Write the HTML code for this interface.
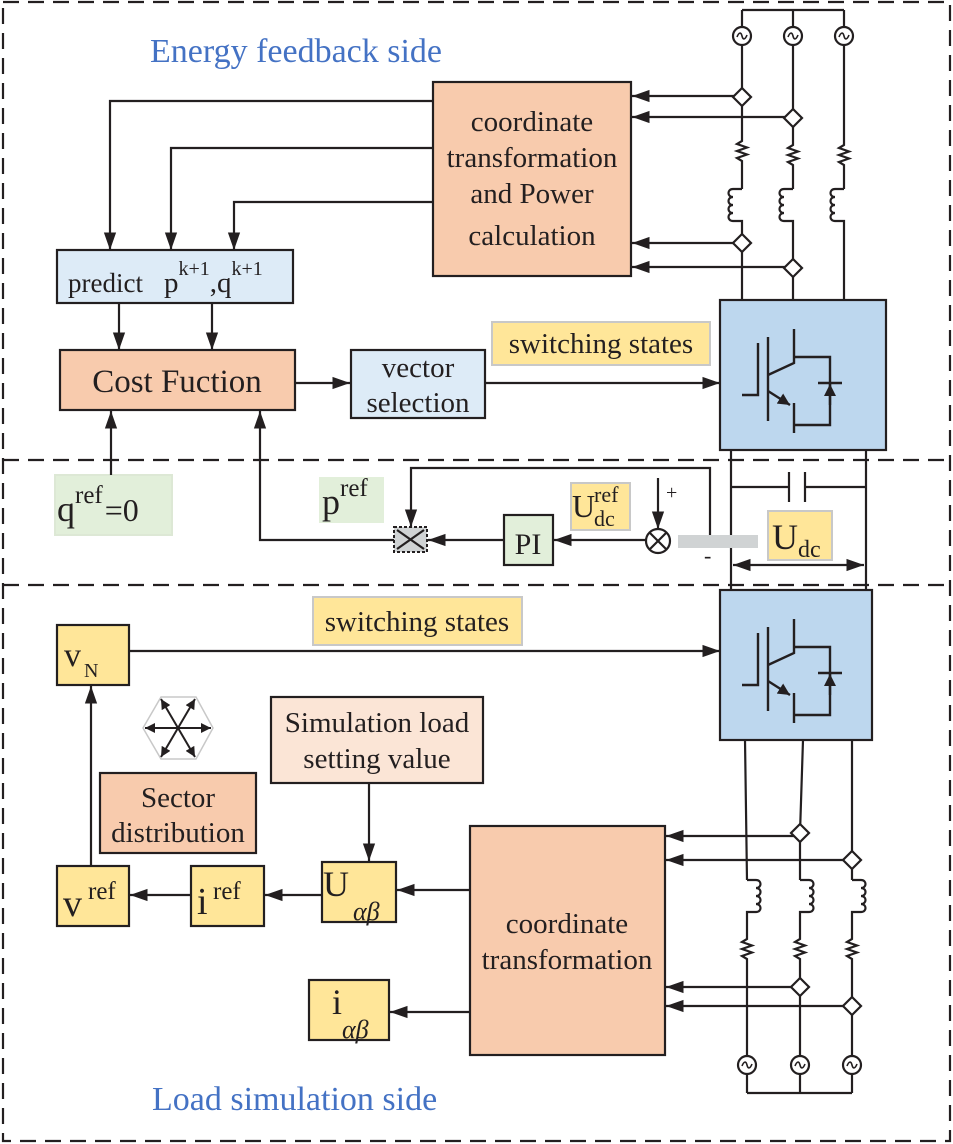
<!DOCTYPE html>
<html><head><meta charset="utf-8"><style>
html,body{margin:0;padding:0;background:#fff}
svg{display:block}
text{font-family:"Liberation Serif",serif;fill:#231f20}
</style></head><body>
<svg width="953" height="1144" viewBox="0 0 953 1144" xmlns="http://www.w3.org/2000/svg">
<defs>
<marker id="a" viewBox="0 0 10 10" refX="10" refY="5" markerWidth="8" markerHeight="8" orient="auto-start-reverse" markerUnits="strokeWidth"><path d="M0,1.5 L10,5 L0,8.5z" fill="#231f20"/></marker>
<marker id="s" viewBox="0 0 10 10" refX="10" refY="5" markerWidth="5" markerHeight="5" orient="auto-start-reverse"><path d="M0,0 L10,5 L0,10z" fill="#231f20"/></marker>
</defs>
<g fill="none" stroke="#231f20" stroke-width="2.2" stroke-dasharray="16,9">
<path d="M3,2 L950,2 L950,1141 L3,1141 Z"/>
<path d="M3,460 L950,460"/><path d="M3,585 L950,585"/>
</g>
<text x="150" y="62" font-size="34" style="fill:#4472c4">Energy feedback side</text>
<text x="152" y="1110" font-size="34" style="fill:#4472c4">Load simulation side</text>

<g stroke="#231f20" stroke-width="2.2">
<rect x="433" y="82" width="198" height="194" fill="#f8cbad"/>
<rect x="57" y="250" width="236" height="53" fill="#ddebf7"/>
<rect x="60" y="350" width="235" height="60" fill="#f8cbad"/>
<rect x="351" y="350" width="134" height="68" fill="#ddebf7"/>
<rect x="720" y="300" width="166" height="150" fill="#bdd7ee"/>
<rect x="720" y="590" width="152" height="150" fill="#bdd7ee"/>
<rect x="504" y="515" width="49" height="50" fill="#e2efda"/>
<rect x="57" y="625" width="72" height="60" fill="#ffe699"/>
<rect x="100" y="773" width="156" height="80" fill="#f8cbad"/>
<rect x="271" y="697" width="212" height="86" fill="#fbe5d6"/>
<rect x="322" y="862" width="74" height="60" fill="#ffe699"/>
<rect x="191" y="866" width="73" height="60" fill="#ffe699"/>
<rect x="57" y="866" width="72" height="60" fill="#ffe699"/>
<rect x="470" y="826" width="195" height="229" fill="#f8cbad"/>
<rect x="309" y="980" width="80" height="60" fill="#ffe699"/>
</g>
<g stroke="#c8c8c8" stroke-width="2">
<rect x="492" y="322" width="218" height="43" fill="#ffe699"/>
<rect x="313" y="597" width="209" height="48" fill="#ffe699"/>
<rect x="55" y="475" width="117" height="60" fill="#e2efda" stroke="#dde8d5"/>
<rect x="320" y="478" width="63" height="44" fill="#e2efda" stroke="#e2efda"/>
<rect x="571" y="483" width="59" height="47" fill="#ffe699"/>
<rect x="768" y="511" width="64" height="49" fill="#ffe699"/>
</g>

<g font-size="29" text-anchor="middle">
<text x="532" y="131">coordinate</text><text x="532" y="167">transformation</text><text x="532" y="203">and Power</text><text x="532" y="245">calculation</text>
<text x="418" y="377">vector</text><text x="418" y="412">selection</text>
<text x="601" y="353">switching states</text>
<text x="417" y="631">switching states</text>
<text x="377" y="732">Simulation load</text><text x="377" y="768">setting value</text>
<text x="178" y="807">Sector</text><text x="178" y="842">distribution</text>
<text x="567" y="933">coordinate</text><text x="567" y="969">transformation</text>
<text x="528" y="554" font-size="30">PI</text>
</g>
<text x="177" y="392" font-size="33" text-anchor="middle">Cost Fuction</text>
<text x="68" y="292" font-size="27">predict<tspan x="164" font-size="29">p</tspan><tspan font-size="20" dy="-17">k+1</tspan><tspan font-size="29" dy="17">,q</tspan><tspan font-size="20" dy="-17">k+1</tspan></text>
<text x="57" y="521" font-size="36">q<tspan font-size="25" dy="-18">ref</tspan><tspan font-size="32" dy="18" dx="2">=0</tspan></text>
<text x="322" y="514" font-size="36">p<tspan font-size="25" dy="-18">ref</tspan></text>
<text x="572" y="517" font-size="32">U</text><text x="594" y="502" font-size="22">ref</text><text x="594" y="526" font-size="22">dc</text>
<text x="772" y="549" font-size="36">U</text><text x="798" y="557" font-size="24">dc</text>
<text x="666" y="499" font-size="20">+</text><text x="704" y="563" font-size="22">-</text>
<text x="64" y="666" font-size="34">v</text><text x="84" y="677" font-size="20">N</text>
<text x="63" y="916" font-size="38">v</text><text x="88" y="899" font-size="25">ref</text>
<text x="197" y="914" font-size="38">i</text><text x="213" y="899" font-size="25">ref</text>
<text x="323" y="896" font-size="36">U</text><text x="353" y="920" font-size="26" font-style="italic">αβ</text>
<text x="332" y="1014" font-size="36">i</text><text x="342" y="1038" font-size="26" font-style="italic">αβ</text>

<g fill="none" stroke="#231f20" stroke-width="2.2">
<path d="M433,101 L110,101 L110,250" marker-end="url(#a)"/>
<path d="M433,148 L171,148 L171,250" marker-end="url(#a)"/>
<path d="M433,202 L234,202 L234,250" marker-end="url(#a)"/>
<path d="M119,303 L119,350" marker-end="url(#a)"/>
<path d="M212,303 L212,350" marker-end="url(#a)"/>
<path d="M295,383 L350,383" marker-end="url(#a)"/>
<path d="M485,383 L720,383" marker-end="url(#a)"/>
<path d="M111,475 L111,411" marker-end="url(#a)"/>
<path d="M394,540 L260,540 L260,411" marker-end="url(#a)"/>
<path d="M504,540 L428,540" marker-end="url(#a)"/>
<path d="M648,540 L554,540" marker-end="url(#a)"/>
<path d="M658,478 L658,529" marker-end="url(#a)"/>
<path d="M710,540 L710,468 L411,468 L411,527" marker-end="url(#a)"/>
<path d="M129,651 L720,651" marker-end="url(#a)"/>
<path d="M91,866 L91,686" marker-end="url(#a)"/>
<path d="M369,783 L369,861" marker-end="url(#a)"/>
<path d="M322,895 L265,895" marker-end="url(#a)"/>
<path d="M191,895 L130,895" marker-end="url(#a)"/>
<path d="M470,890 L397,890" marker-end="url(#a)"/>
<path d="M470,1012 L390,1012" marker-end="url(#a)"/>
<path d="M742,10 L844,10 M742,10 L742,138 M793,10 L793,142 M844,10 L844,142"/>
<path d="M742,138 l0,3 l-5,3 l10,3.5 l-10,3.5 l10,3.5 l-10,3.5 l5,3 l0,4"/>
<path d="M793,142 l0,3 l-5,3 l10,3.5 l-10,3.5 l10,3.5 l-10,3.5 l5,3 l0,4"/>
<path d="M844,142 l0,3 l-5,3 l10,3.5 l-10,3.5 l10,3.5 l-10,3.5 l5,3 l0,4"/>
<path d="M742,165 L742,189 M793,169 L793,189 M844,169 L844,189"/>
<path d="M742,189 l-9,0 c-6,0 -6,8 0,8 c-6,0 -6,8 0,8 c-6,0 -6,8 0,8 c-6,0 -6,8 0,8 l9,0 L742,300"/>
<path d="M793,189 l-9,0 c-6,0 -6,8 0,8 c-6,0 -6,8 0,8 c-6,0 -6,8 0,8 c-6,0 -6,8 0,8 l9,0 L793,300"/>
<path d="M844,189 l-9,0 c-6,0 -6,8 0,8 c-6,0 -6,8 0,8 c-6,0 -6,8 0,8 c-6,0 -6,8 0,8 l9,0 L844,300"/>
<path d="M742,96 L632,96" marker-end="url(#a)"/>
<path d="M793,117 L632,117" marker-end="url(#a)"/>
<path d="M742,243 L632,243" marker-end="url(#a)"/>
<path d="M793,267 L632,267" marker-end="url(#a)"/>
<path d="M731,450 L731,590"/><path d="M866,450 L866,590"/>
<path d="M731,487 L789,487 M789,472 L789,502 M805,472 L805,502 M805,487 L866,487"/>
<path d="M733,565 L864,565" marker-start="url(#a)" marker-end="url(#a)"/>
<path d="M747,1093 L852,1093 M800,1093 L800,1074 M747,1093 L747,1074 M852,1093 L852,1074"/>
<path d="M745,740 L747,880 M803,740 L800,833 L800,880 M852,740 L852,880"/>
<path d="M747,880 l9,0 c6,0 6,8 0,8 c6,0 6,8 0,8 c6,0 6,8 0,8 c6,0 6,8 0,8 l-9,0 L747,936"/>
<path d="M800,880 l9,0 c6,0 6,8 0,8 c6,0 6,8 0,8 c6,0 6,8 0,8 c6,0 6,8 0,8 l-9,0 L800,936"/>
<path d="M852,880 l9,0 c6,0 6,8 0,8 c6,0 6,8 0,8 c6,0 6,8 0,8 c6,0 6,8 0,8 l-9,0 L852,936"/>
<path d="M747,936 l0,3 l-5,3 l10,3.5 l-10,3.5 l10,3.5 l-10,3.5 l5,3 l0,3 L747,1056"/>
<path d="M800,936 l0,3 l-5,3 l10,3.5 l-10,3.5 l10,3.5 l-10,3.5 l5,3 l0,3 L800,1056"/>
<path d="M852,936 l0,3 l-5,3 l10,3.5 l-10,3.5 l10,3.5 l-10,3.5 l5,3 l0,3 L852,1056"/>
<path d="M800,836 L666,836" marker-end="url(#a)"/>
<path d="M852,860 L666,860" marker-end="url(#a)"/>
<path d="M800,987 L666,987" marker-end="url(#a)"/>
<path d="M852,1006 L666,1006" marker-end="url(#a)"/>
</g>
<g fill="#fff" stroke="#231f20" stroke-width="2.2">
<circle cx="742" cy="36" r="9"/><circle cx="793" cy="36" r="9"/><circle cx="844" cy="36" r="9"/>
<circle cx="747" cy="1065" r="9"/><circle cx="800" cy="1065" r="9"/><circle cx="852" cy="1065" r="9"/>
</g>
<g fill="none" stroke="#231f20" stroke-width="1.6">
<path d="M737,37 c2,-5 4,-5 5,-1 c1,4 3,4 5,-1"/><path d="M788,37 c2,-5 4,-5 5,-1 c1,4 3,4 5,-1"/><path d="M839,37 c2,-5 4,-5 5,-1 c1,4 3,4 5,-1"/>
<path d="M742,1066 c2,-5 4,-5 5,-1 c1,4 3,4 5,-1"/><path d="M795,1066 c2,-5 4,-5 5,-1 c1,4 3,4 5,-1"/><path d="M847,1066 c2,-5 4,-5 5,-1 c1,4 3,4 5,-1"/>
</g>
<g fill="#fff" stroke="#231f20" stroke-width="2.2">
<path d="M742,88 L751,97 L742,106 L733,97z"/><path d="M793,109 L802,118 L793,127 L784,118z"/>
<path d="M742,234 L751,243 L742,252 L733,243z"/><path d="M793,259 L802,268 L793,277 L784,268z"/>
<path d="M800,824 L809,833 L800,842 L791,833z"/><path d="M852,851 L861,860 L852,869 L843,860z"/>
<path d="M800,978 L809,987 L800,996 L791,987z"/><path d="M852,997 L861,1006 L852,1015 L843,1006z"/>
</g>
<rect x="678" y="535" width="80" height="13" fill="#d0d3d4"/>
<circle cx="658" cy="541" r="12" fill="#fff" stroke="#231f20" stroke-width="2.2"/>
<path d="M650,533 L666,549 M666,533 L650,549" stroke="#231f20" stroke-width="2.2"/>
<rect x="394" y="527" width="33" height="25" fill="#d0d3d4" stroke="#231f20" stroke-width="2" stroke-dasharray="3,2"/>
<path d="M397,530 L424,549 M424,530 L397,549" stroke="#231f20" stroke-width="2.2"/>
<g fill="none" stroke="#231f20" stroke-width="2.4" transform="translate(800,375)"><path d="M-58,20 L-42,20 L-42,-32"/><path d="M-32,-38 L-32,46"/><path d="M-32,0 L-6,-12 L-6,-46"/><path d="M-32,16 L-10,30" marker-end="url(#s)"/><path d="M-6,28 L-6,58"/><path d="M-6,-18 L30,-18 L30,50 L-6,50"/><path d="M18,8 L42,8"/><path d="M30,30 L30,9" marker-end="url(#s)"/></g>
<g fill="none" stroke="#231f20" stroke-width="2.4" transform="translate(800,665)"><path d="M-58,20 L-42,20 L-42,-32"/><path d="M-32,-38 L-32,46"/><path d="M-32,0 L-6,-12 L-6,-46"/><path d="M-32,16 L-10,30" marker-end="url(#s)"/><path d="M-6,28 L-6,58"/><path d="M-6,-18 L30,-18 L30,50 L-6,50"/><path d="M18,8 L42,8"/><path d="M30,30 L30,9" marker-end="url(#s)"/></g>
<polygon points="143,728 161,697 196,697 213,728 196,759 161,759" fill="none" stroke="#c8c8c8" stroke-width="1.5"/>
<g stroke="#231f20" stroke-width="2" fill="none">
<path d="M178,728 L145,728" marker-end="url(#s)"/><path d="M178,728 L211,728" marker-end="url(#s)"/>
<path d="M178,728 L161,699" marker-end="url(#s)"/><path d="M178,728 L195,699" marker-end="url(#s)"/>
<path d="M178,728 L161,757" marker-end="url(#s)"/><path d="M178,728 L195,757" marker-end="url(#s)"/>
</g>
</svg>
</body></html>
